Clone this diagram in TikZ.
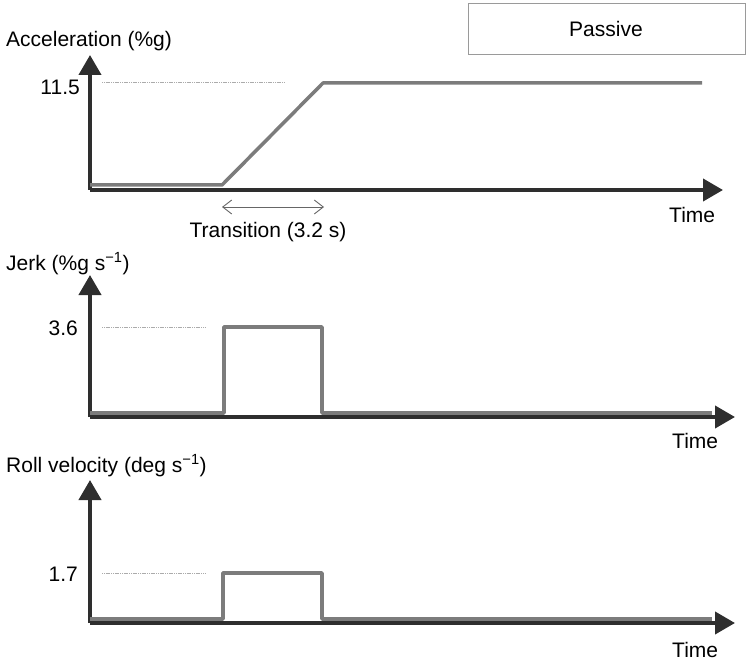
\documentclass[tikz,border=0pt]{standalone}
\usepackage{fontspec}
\setmainfont{Liberation Sans}
\usetikzlibrary{arrows.meta}
\definecolor{axisdark}{HTML}{2E2E2E}
\definecolor{sig}{HTML}{7C7C7C}
\definecolor{refgray}{HTML}{ABABAB}
\definecolor{boxgray}{HTML}{9A9A9A}
\begin{document}
\begin{tikzpicture}[x=1pt,y=-1pt,
  axis/.style={draw=axisdark,line width=4pt,line join=miter,
    -{Triangle[length=20pt,width=22pt]}},
  signal/.style={draw=sig,line width=3.5pt,line join=round},
  refline/.style={draw=refgray,line width=1pt,dash pattern=on 1.2pt off 0.6pt},
  lbl/.style={inner sep=0pt,font=\fontsize{21}{25}\selectfont},
  span/.style={draw=gray!80!black,line width=0.9pt,
    {Straight Barb[length=9pt,width=14pt]}-{Straight Barb[length=9pt,width=14pt]}},
  modebox/.style={draw=boxgray,line width=1pt,fill=white}]
\useasboundingbox (0,0) rectangle (747,663);

% mode box
\draw[modebox] (468,4) rectangle (745,55);
\node[lbl,anchor=base] (passive) at (606,37) {Passive};

% ---------- acceleration ----------
\node[lbl,anchor=base west] (ylab1) at (6,46.5) {Acceleration (\%g)};
\coordinate (a1top) at (90,55);
\coordinate (a1org) at (90,190);
\coordinate (a1end) at (723,190);
\draw[axis] (a1org) -- (a1top);
\draw[axis] (a1org) -- (a1end);
\coordinate (s1a) at (90,185);
\coordinate (s1b) at (222,185);
\coordinate (s1c) at (323,83);
\coordinate (s1d) at (702,83);
\draw[signal] (s1a) -- (s1b) -- (s1c) -- (s1d);
\coordinate (r1a) at (102,83);
\coordinate (r1b) at (285,83);
\draw[refline] (r1a) -- (r1b);
\node[lbl,anchor=base east] (v1) at (80,95) {11.5};
\node[lbl,anchor=base west] (t1) at (669,223) {Time};
\coordinate (tra) at (222,207);
\coordinate (trb) at (324,207);
\draw[span] (tra) -- (trb);
\node[lbl,anchor=base] (trlab) at (268,238) {Transition (3.2 s)};

% ---------- jerk ----------
\node[lbl,anchor=base west] (ylab2) at (6,270) {Jerk (\%g s\textsuperscript{−1})};
\coordinate (a2top) at (90,275);
\coordinate (a2org) at (90,417);
\coordinate (a2end) at (735,417);
\draw[axis] (a2org) -- (a2top);
\draw[axis] (a2org) -- (a2end);
\coordinate (s2a) at (90,413);
\coordinate (s2b) at (224,413);
\coordinate (s2c) at (224,327);
\coordinate (s2d) at (322,327);
\coordinate (s2e) at (322,413);
\coordinate (s2f) at (712,413);
\draw[signal] (s2a) -- (s2b) -- (s2c) -- (s2d) -- (s2e) -- (s2f);
\coordinate (r2a) at (102,327);
\coordinate (r2b) at (205,327);
\draw[refline] (r2a) -- (r2b);
\node[lbl,anchor=base east] (v2) at (78,335) {3.6};
\node[lbl,anchor=base west] (t2) at (672,448) {Time};

% ---------- roll velocity ----------
\node[lbl,anchor=base west] (ylab3) at (6,472) {Roll velocity (deg s\textsuperscript{−1})};
\coordinate (a3top) at (90,480);
\coordinate (a3org) at (90,623);
\coordinate (a3end) at (735,623);
\draw[axis] (a3org) -- (a3top);
\draw[axis] (a3org) -- (a3end);
\coordinate (s3a) at (90,619);
\coordinate (s3b) at (223,619);
\coordinate (s3c) at (223,573);
\coordinate (s3d) at (322,573);
\coordinate (s3e) at (322,619);
\coordinate (s3f) at (712,619);
\draw[signal] (s3a) -- (s3b) -- (s3c) -- (s3d) -- (s3e) -- (s3f);
\coordinate (r3a) at (102,573);
\coordinate (r3b) at (205,573);
\draw[refline] (r3a) -- (r3b);
\node[lbl,anchor=base east] (v3) at (78,581) {1.7};
\node[lbl,anchor=base west] (t3) at (672,657) {Time};
\end{tikzpicture}
\end{document}
